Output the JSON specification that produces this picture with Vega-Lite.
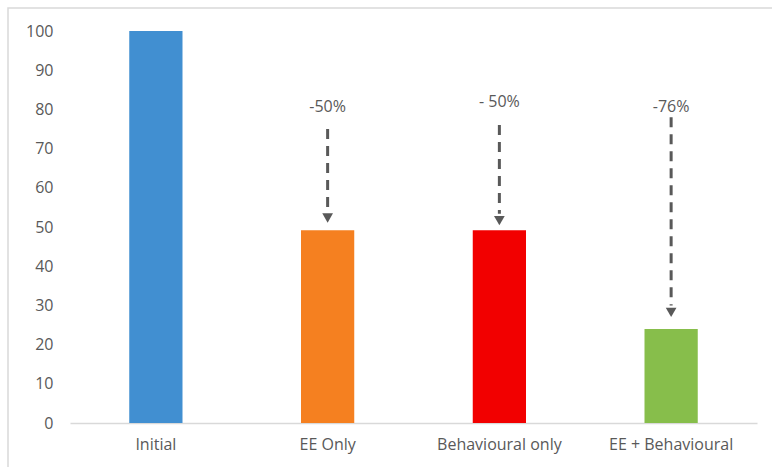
{
  "$schema": "https://vega.github.io/schema/vega-lite/v6.json",
  "width": 780,
  "height": 470,
  "autosize": {"type": "none"},
  "padding": {"left": 8, "top": 8, "right": 0, "bottom": 0},
  "background": "white",
  "config": {
    "view": {"stroke": "#D9D9D9", "strokeWidth": 1.5},
    "font": "Open Sans"
  },
  "datasets": {
    "bars": [
      {"category": "Initial", "value": 100},
      {"category": "EE Only", "value": 49.2},
      {"category": "Behavioural only", "value": 49.2},
      {"category": "EE + Behavioural", "value": 24}
    ],
    "arrows": [
      {"category": "EE Only", "start": 75, "end": 54, "tip": 52.3, "labelY": 80.6, "label": "-50%"},
      {"category": "Behavioural only", "start": 76, "end": 53.4, "tip": 51.6, "labelY": 81.9, "label": "- 50%"},
      {"category": "EE + Behavioural", "start": 78, "end": 30, "tip": 28.2, "labelY": 80.6, "label": "-76%"}
    ]
  },
  "encoding": {
    "x": {
      "field": "category",
      "type": "nominal",
      "sort": ["Initial", "EE Only", "Behavioural only", "EE + Behavioural"],
      "scale": {"range": [62, 749], "paddingInner": 0.69, "paddingOuter": 0.345},
      "axis": {
        "title": null,
        "orient": "bottom",
        "offset": -55,
        "labelAngle": 0,
        "ticks": false,
        "domainColor": "#D9D9D9",
        "domainWidth": 1.5,
        "labelColor": "#595959",
        "labelFontSize": 16,
        "labelPadding": 13,
        "labelFont": "Open Sans"
      }
    }
  },
  "layer": [
    {
      "data": {"name": "bars"},
      "mark": {"type": "bar"},
      "encoding": {
        "y": {
          "field": "value",
          "type": "quantitative",
          "scale": {"domain": [0, 100], "range": [415, 23], "nice": false},
          "axis": {
            "title": null,
            "orient": "left",
            "offset": -50,
            "values": [0, 10, 20, 30, 40, 50, 60, 70, 80, 90, 100],
            "domain": false,
            "ticks": false,
            "grid": false,
            "labelColor": "#595959",
            "labelFontSize": 16,
            "labelPadding": 5,
            "labelFont": "Open Sans"
          }
        },
        "color": {
          "field": "category",
          "type": "nominal",
          "scale": {
            "domain": ["Initial", "EE Only", "Behavioural only", "EE + Behavioural"],
            "range": ["#418FD1", "#F58020", "#F20000", "#87BE4B"]
          },
          "legend": null
        }
      }
    },
    {
      "data": {"name": "arrows"},
      "mark": {"type": "rule", "strokeDash": [10, 7], "strokeWidth": 3, "color": "#595959"},
      "encoding": {
        "y": {"field": "start", "type": "quantitative"},
        "y2": {"field": "end"}
      }
    },
    {
      "data": {"name": "arrows"},
      "mark": {"type": "point", "shape": "triangle-down", "filled": true, "size": 115, "color": "#595959", "opacity": 1},
      "encoding": {
        "y": {"field": "tip", "type": "quantitative"}
      }
    },
    {
      "data": {"name": "arrows"},
      "mark": {"type": "text", "fontSize": 16, "color": "#595959", "baseline": "middle", "align": "center", "font": "Open Sans"},
      "encoding": {
        "y": {"field": "labelY", "type": "quantitative"},
        "text": {"field": "label"}
      }
    }
  ]
}
